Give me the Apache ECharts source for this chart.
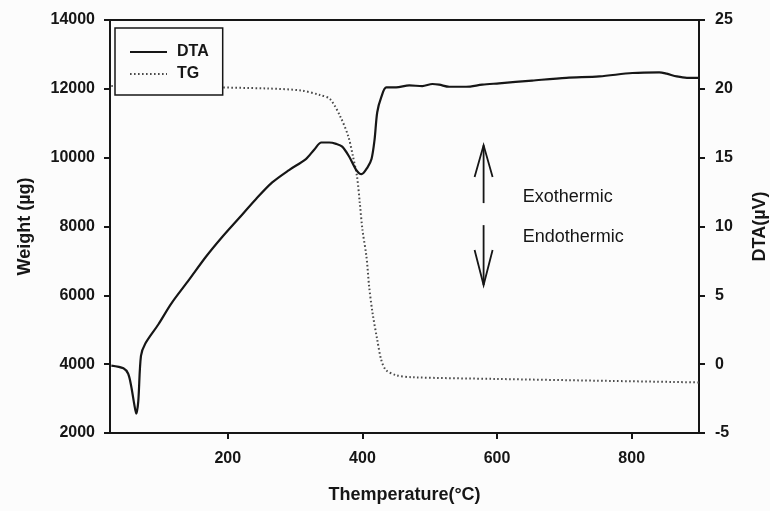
<!DOCTYPE html>
<html>
<head>
<meta charset="utf-8">
<script src="https://cdn.jsdelivr.net/npm/echarts@6/dist/echarts.min.js"></script>
<style>
  html, body { margin: 0; padding: 0; background: #fcfcfc; }
  #chart { width: 770px; height: 511px; }
</style>
</head>
<body>
<div id="chart"></div>
<script>
// DTA signal (µV) against temperature (°C)
const dtaTemp = [27, 45, 52, 56.5, 61, 64, 67, 71, 77.5, 97, 116, 142, 167.5, 191, 216.5, 242, 266, 291, 316, 328.6,
  339, 350.6, 361, 370, 380, 391, 398.6, 407.6, 413.5, 418, 422, 428, 435.5, 450, 469.6, 489, 504, 514, 529, 554,
  578, 603, 652, 703, 752, 801, 841, 852, 867, 882, 894, 900];
const dtaSignal = [-0.1, -0.3, -0.7, -1.6, -2.9, -3.6, -2.7, 0.6, 1.5, 2.9, 4.4, 6.1, 7.8, 9.2, 10.6, 12.0, 13.2, 14.1, 14.9, 15.6,
  16.1, 16.1, 16.0, 15.8, 15.1, 14.1, 13.8, 14.3, 14.9, 16.3, 18.3, 19.4, 20.1, 20.1, 20.25, 20.2, 20.35, 20.3, 20.15, 20.15,
  20.3, 20.4, 20.6, 20.8, 20.9, 21.15, 21.2, 21.1, 20.9, 20.8, 20.8, 20.8];

// TG weight (µg) against temperature (°C)
const tgTemp = [27, 150, 260, 309, 337, 352, 367, 379, 386, 392, 396, 400, 406, 410, 415, 422, 428, 435, 450, 474, 600, 748, 900];
const tgWeight = [12080, 12050, 12010, 11950, 11820, 11700, 11200, 10620, 10030, 9450, 8700, 7910, 7120, 6250, 5490, 4710,
  4120, 3830, 3680, 3620, 3570, 3520, 3470];

const tempTicks = [200, 400, 600, 800];

const FONT = '"Liberation Sans", Arial, sans-serif';
const INK = '#161616';

const chart = echarts.init(document.getElementById('chart'), null, { renderer: 'canvas' });

const pairs = (xs, ys) => xs.map((x, i) => [x, ys[i]]);
const plain = v => String(v);

chart.setOption({
  backgroundColor: '#fcfcfc',
  animation: false,
  textStyle: { fontFamily: FONT, color: INK },
  grid: {
    left: 110, right: 71, top: 20, bottom: 78,
    outerBoundsMode: 'none', containLabel: false,
    show: true, borderColor: INK, borderWidth: 2, backgroundColor: 'transparent'
  },
  legend: {
    orient: 'vertical',
    left: 115, top: 28,
    padding: [16, 14, 13, 14],
    itemGap: 6,
    itemWidth: 37, itemHeight: 14,
    backgroundColor: '#fcfcfc',
    borderColor: INK, borderWidth: 1.5, borderRadius: 0,
    itemStyle: { opacity: 0 },
    textStyle: { fontFamily: FONT, fontSize: 16, fontWeight: 'bold', color: INK, padding: [0, 0, 0, 5] },
    data: ['DTA', 'TG']
  },
  xAxis: {
    type: 'value',
    min: 25, max: 900,
    name: 'Themperature(\u00b0C)',
    nameLocation: 'middle',
    nameGap: 53,
    nameTextStyle: { fontFamily: FONT, fontSize: 18, fontWeight: 'bold', color: INK },
    axisLine: { show: true, onZero: false, lineStyle: { color: INK, width: 2 } },
    axisTick: { show: true, inside: false, length: 6, lineStyle: { color: INK, width: 2 }, customValues: tempTicks },
    axisLabel: { fontFamily: FONT, fontSize: 16, fontWeight: 'bold', color: INK, margin: 18, customValues: tempTicks, formatter: plain },
    splitLine: { show: false }
  },
  yAxis: [
    {
      type: 'value',
      position: 'left',
      min: 2000, max: 14000, interval: 2000,
      name: 'Weight (\u00b5g)',
      nameLocation: 'middle',
      nameGap: 76,
      nameRotate: 90,
      nameTextStyle: { fontFamily: FONT, fontSize: 18, fontWeight: 'bold', color: INK },
      axisLine: { show: true, onZero: false, lineStyle: { color: INK, width: 2 } },
      axisTick: { show: true, length: 6, lineStyle: { color: INK, width: 2 } },
      axisLabel: { fontFamily: FONT, fontSize: 16, fontWeight: 'bold', color: INK, margin: 15, formatter: plain },
      splitLine: { show: false }
    },
    {
      type: 'value',
      position: 'right',
      min: -5, max: 25, interval: 5,
      name: 'DTA(\u00b5V)',
      nameLocation: 'middle',
      nameGap: 52,
      nameRotate: 90,
      nameTextStyle: { fontFamily: FONT, fontSize: 18, fontWeight: 'bold', color: INK },
      axisLine: { show: true, onZero: false, lineStyle: { color: INK, width: 2 } },
      axisTick: { show: true, length: 6, lineStyle: { color: INK, width: 2 } },
      axisLabel: { fontFamily: FONT, fontSize: 16, fontWeight: 'bold', color: INK, margin: 16, formatter: plain },
      splitLine: { show: false }
    }
  ],
  series: [
    {
      name: 'DTA',
      type: 'line',
      yAxisIndex: 1,
      data: pairs(dtaTemp, dtaSignal),
      showSymbol: false,
      symbol: 'none',
      smooth: 0.3,
      lineStyle: { color: INK, width: 2.2 },
      itemStyle: { color: INK },
      z: 3
    },
    {
      name: 'TG',
      type: 'line',
      yAxisIndex: 0,
      data: pairs(tgTemp, tgWeight),
      showSymbol: false,
      symbol: 'none',
      smooth: 0.3,
      lineStyle: { color: '#4a4a4a', width: 2, type: [1.6, 2.4] },
      itemStyle: { color: '#4a4a4a' },
      z: 2
    }
  ]
});

// Exothermic / endothermic direction markers, positioned in DTA data units
const arrowTemp = 580;
const upArrow = { tail: 11.7, tip: 15.9, head: 13.6 };
const downArrow = { tail: 10.1, tip: 5.75, head: 8.3 };
const annotations = [
  { text: 'Exothermic', temp: 638, signal: 12.15 },
  { text: 'Endothermic', temp: 638, signal: 9.24 }
];

function toPx(t, v) {
  return chart.convertToPixel({ seriesIndex: 0 }, [t, v]);
}

function arrowShapes(a) {
  const tail = toPx(arrowTemp, a.tail);
  const tip = toPx(arrowTemp, a.tip);
  const head = toPx(arrowTemp, a.head);
  const wing = 9;
  return [
    { type: 'polyline', shape: { points: [tail, tip] }, style: { stroke: INK, lineWidth: 1.8, fill: null } },
    { type: 'polyline', shape: { points: [[head[0] - wing, head[1]], tip, [head[0] + wing, head[1]]] },
      style: { stroke: INK, lineWidth: 1.8, fill: null, lineJoin: 'miter' } }
  ];
}

const graphics = [...arrowShapes(upArrow), ...arrowShapes(downArrow)];
annotations.forEach(a => {
  const p = toPx(a.temp, a.signal);
  graphics.push({
    type: 'text', x: p[0], y: p[1],
    style: { text: a.text, fill: INK, font: '18px ' + FONT, textVerticalAlign: 'middle', textAlign: 'left' }
  });
});
chart.setOption({ graphic: graphics });
</script>
</body>
</html>
